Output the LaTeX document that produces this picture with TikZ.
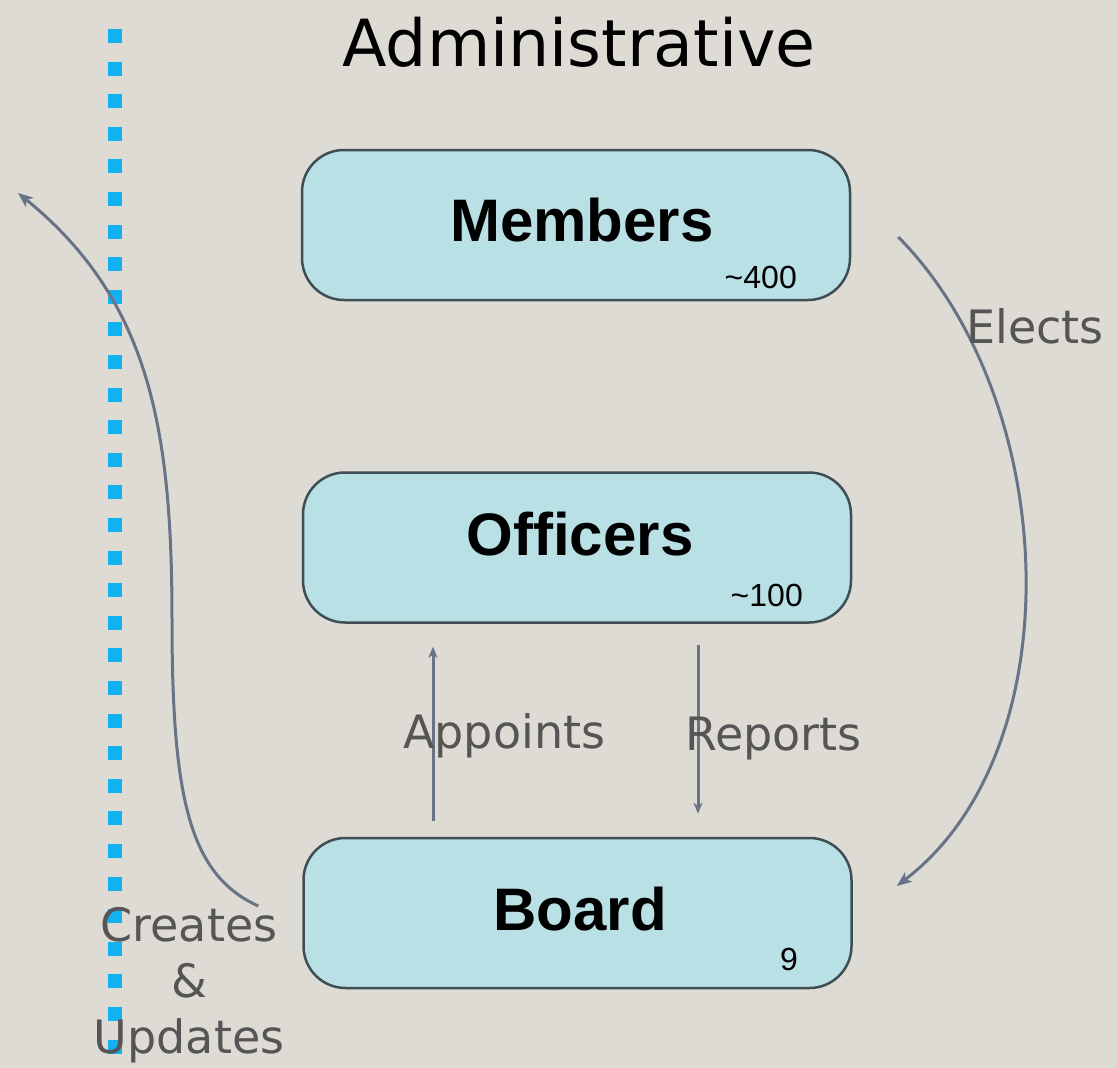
\documentclass[tikz,border=0pt]{standalone}
\usepackage{fontspec}
\setmainfont{DejaVu Sans}
\newfontfamily\boxfont{Liberation Sans}
\usetikzlibrary{arrows.meta,calc}
\definecolor{bgc}{RGB}{222,219,213}
\definecolor{boxfill}{RGB}{185,224,229}
\definecolor{boxdraw}{RGB}{62,78,84}
\definecolor{arrowc}{RGB}{104,116,134}
\definecolor{dotblue}{RGB}{18,178,240}
\definecolor{lblc}{RGB}{85,85,85}
\begin{document}
\begin{tikzpicture}[x=1pt,y=-1pt,
  orgbox/.style={draw=boxdraw, line width=2.5pt, fill=boxfill, rounded corners=42pt,
    minimum width=548pt, minimum height=150pt, inner sep=0pt},
  boxname/.style={inner sep=0pt, anchor=base, font=\boxfont\bfseries\fontsize{60pt}{72pt}\selectfont},
  boxcount/.style={inner sep=0pt, anchor=base east, font=\boxfont\fontsize{32pt}{38pt}\selectfont},
  lbl/.style={inner sep=0pt, text=lblc, font=\fontsize{46pt}{56pt}\selectfont},
  conn/.style={draw=arrowc, line width=3pt, -{Stealth[length=15pt,width=12pt,inset=4pt]}},
  sconn/.style={draw=arrowc, line width=3pt, -{Stealth[length=11pt,width=9pt,inset=3pt]}},
  dotline/.style={draw=dotblue, line width=14pt, dash pattern=on 14pt off 18.6pt}
]
\fill[bgc] (0,0) rectangle (1117,1068);
\useasboundingbox (0,0) rectangle (1117,1068);

% dotted divider
\coordinate (dtop) at (115,29);
\coordinate (dbot) at (115,1054);
\draw[dotline] (dtop) -- (dbot);

% title
\node[inner sep=0pt, anchor=base, font=\fontsize{65pt}{78pt}\selectfont] (title) at (579,66) {Administrative};

% boxes
\node[orgbox] (members) at (576,225) {};
\node[orgbox] (officers) at (577,547.5) {};
\node[orgbox] (board) at (577.5,913) {};

\node[boxname] (memberst) at (582,241) {Members};
\node[boxname] (officerst) at (580,555) {Officers};
\node[boxname] (boardt) at (580,930) {Board};

\node[boxcount] (memberc) at (797,288) {\textasciitilde400};
\node[boxcount] (officerc) at (803,606) {\textasciitilde100};
\node[boxcount] (boardc) at (798,970) {9};

% Appoints / Reports
\draw[sconn] ([xshift=-144.5pt,yshift=16pt]board.north) -- ([xshift=-144pt,yshift=-23pt]officers.south);
\draw[sconn] ([xshift=121pt,yshift=-21pt]officers.south) -- ([xshift=120.5pt,yshift=23pt]board.north);
\node[lbl, anchor=base west] (appoints) at (403,748) {Appoints};
\node[lbl, anchor=base west] (reports) at (685,750) {Reports};

% Elects
\coordinate (elS) at ([xshift=47pt,yshift=-12pt]members.east);
\coordinate (elE) at ([xshift=44pt,yshift=27pt]board.east);
\draw[conn] (elS) .. controls (1060,400) and (1075,750) .. (elE);
\node[lbl, anchor=base west] (elects) at (966,343) {Elects};

% Creates & Updates
\coordinate (cuS) at ([xshift=-44pt,yshift=7pt]board.west);
\coordinate (cuM) at (172,620);
\coordinate (cuE) at (18,193);
\draw[conn] (cuS) .. controls (190,875) and (172,800) .. (cuM)
  .. controls (172,430) and (150,300) .. (cuE);
\node[lbl, anchor=base, align=center, font=\fontsize{46pt}{56pt}\selectfont] (creates) at (189,1053) {Creates\\\&\\Updates};
\end{tikzpicture}
\end{document}
